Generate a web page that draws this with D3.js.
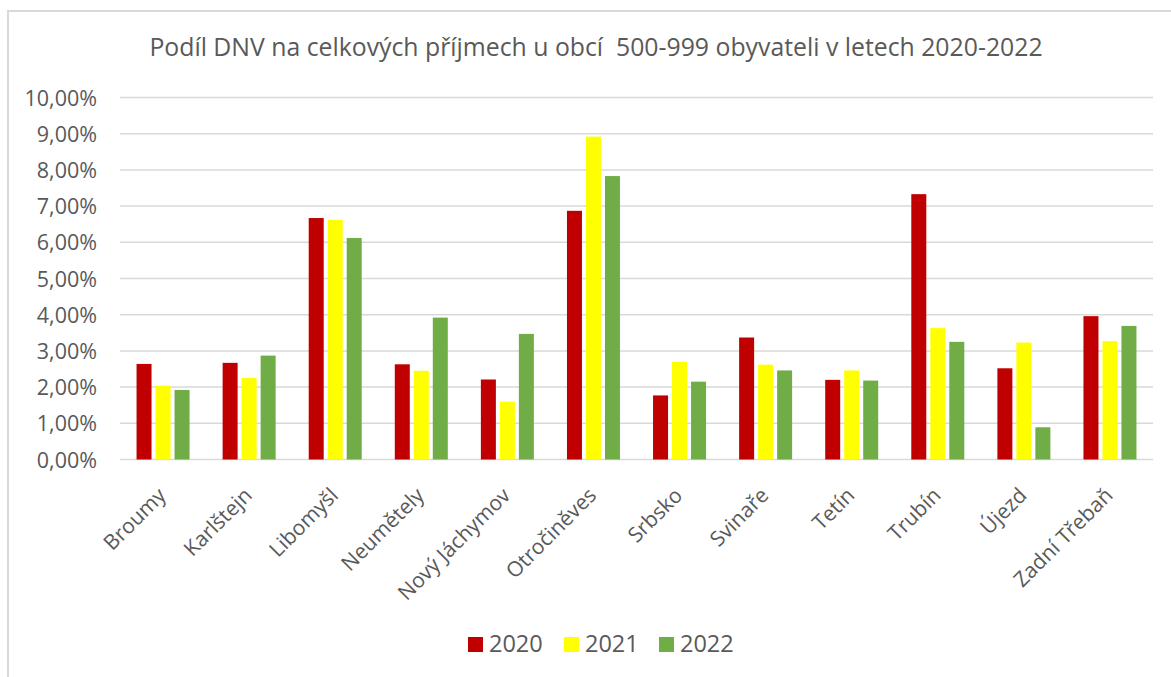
<!DOCTYPE html>
<html>
<head>
<meta charset="utf-8">
<script src="https://cdn.jsdelivr.net/npm/d3@7"></script>
<style>
  body { margin: 0; background: #fff; }
  text { font-family: "Open Sans", sans-serif; fill: #595959; }
</style>
</head>
<body>
<div class="chart"></div>
<script>
// data
const obce = ['Broumy', 'Karlštejn', 'Libomyšl', 'Neumětely', 'Nový Jáchymov', 'Otročiněves',
  'Srbsko', 'Svinaře', 'Tetín', 'Trubín', 'Újezd', 'Zadní Třebaň']
const roky = ['2020', '2021', '2022']
const r2020 = [2.64, 2.67, 6.67, 2.63, 2.21, 6.87, 1.77, 3.37, 2.20, 7.33, 2.52, 3.96]
const r2021 = [2.04, 2.25, 6.62, 2.45, 1.60, 8.92, 2.70, 2.62, 2.46, 3.63, 3.23, 3.27]
const r2022 = [1.92, 2.87, 6.12, 3.92, 3.47, 7.83, 2.15, 2.46, 2.18, 3.25, 0.89, 3.69]
const yTicks = [0, 1, 2, 3, 4, 5, 6, 7, 8, 9, 10]
const barvy = ['#c00000', '#ffff00', '#70ad47']

const series = [r2020, r2021, r2022]

const width = 1171
const height = 677
const margin = { top: 97.5, left: 120, right: 18, bottom: 217.5 }

const svg = d3.select('.chart')
  .append('svg')
  .attr('width', width)
  .attr('height', height)

// chart frame (cut off right and bottom)
svg.append('rect')
  .attr('x', 8)
  .attr('y', 11)
  .attr('width', 1200)
  .attr('height', 700)
  .attr('fill', 'none')
  .attr('stroke', '#d9d9d9')
  .attr('stroke-width', 2)

svg.append('text')
  .attr('x', 596)
  .attr('y', 56)
  .attr('text-anchor', 'middle')
  .attr('xml:space', 'preserve')
  .style('font-size', '24.8px')
  .text('Podíl DNV na celkových příjmech u obcí  500-999 obyvateli v letech 2020-2022')

const x0 = d3.scaleBand()
  .domain(obce)
  .range([margin.left, width - margin.right])

const barW = 15
const step = 19
const x1 = d3.scaleOrdinal()
  .domain(roky)
  .range([-step - barW / 2, -barW / 2, step - barW / 2])

const y = d3.scaleLinear()
  .domain([0, 10])
  .range([height - margin.bottom, margin.top])

// gridlines
svg.append('g')
  .selectAll('line')
  .data(yTicks)
  .enter()
  .append('line')
  .attr('x1', margin.left)
  .attr('x2', width - margin.right)
  .attr('y1', d => y(d))
  .attr('y2', d => y(d))
  .attr('stroke', '#d9d9d9')
  .attr('stroke-width', 1.5)

// y axis labels
const yAxis = d3.axisLeft(y)
  .tickValues(yTicks)
  .tickSize(0)
  .tickPadding(23)
  .tickFormat(d => d3.format('.2f')(d).replace('.', ',') + '%')

svg.append('g')
  .attr('transform', `translate(${margin.left}, 0)`)
  .call(yAxis)
  .call(g => g.select('.domain').remove())
  .selectAll('text')
  .style('font-size', '21.5px')
  .attr('fill', '#595959')
  .attr('dy', '0.35em')

// bars
roky.forEach((rok, i) => {
  svg.append('g')
    .selectAll('rect')
    .data(series[i])
    .enter()
    .append('rect')
    .attr('x', (d, j) => x0(obce[j]) + x0.bandwidth() / 2 + x1(rok))
    .attr('y', d => y(d))
    .attr('width', barW)
    .attr('height', d => y(0) - y(d))
    .attr('fill', barvy[i])
})

// x labels
const xAxis = d3.axisBottom(x0).tickSize(0).tickPadding(0)
svg.append('g')
  .attr('transform', `translate(0, ${height - margin.bottom})`)
  .call(xAxis)
  .call(g => g.select('.domain').remove())
  .selectAll('text')
  .style('font-size', '21px')
  .attr('fill', '#595959')
  .attr('text-anchor', 'end')
  .attr('transform', 'translate(-1, 32) rotate(-45)')
  .attr('dy', '0.35em')
  .attr('y', 0)

// legend
const legendX = [468, 564, 659]
const legend = svg.append('g')
roky.forEach((rok, i) => {
  legend.append('rect')
    .attr('x', legendX[i])
    .attr('y', 637)
    .attr('width', 15)
    .attr('height', 15)
    .attr('fill', barvy[i])
  legend.append('text')
    .attr('x', legendX[i] + 21)
    .attr('y', 652)
    .style('font-size', '23.5px')
    .text(rok)
})
</script>
</body>
</html>
